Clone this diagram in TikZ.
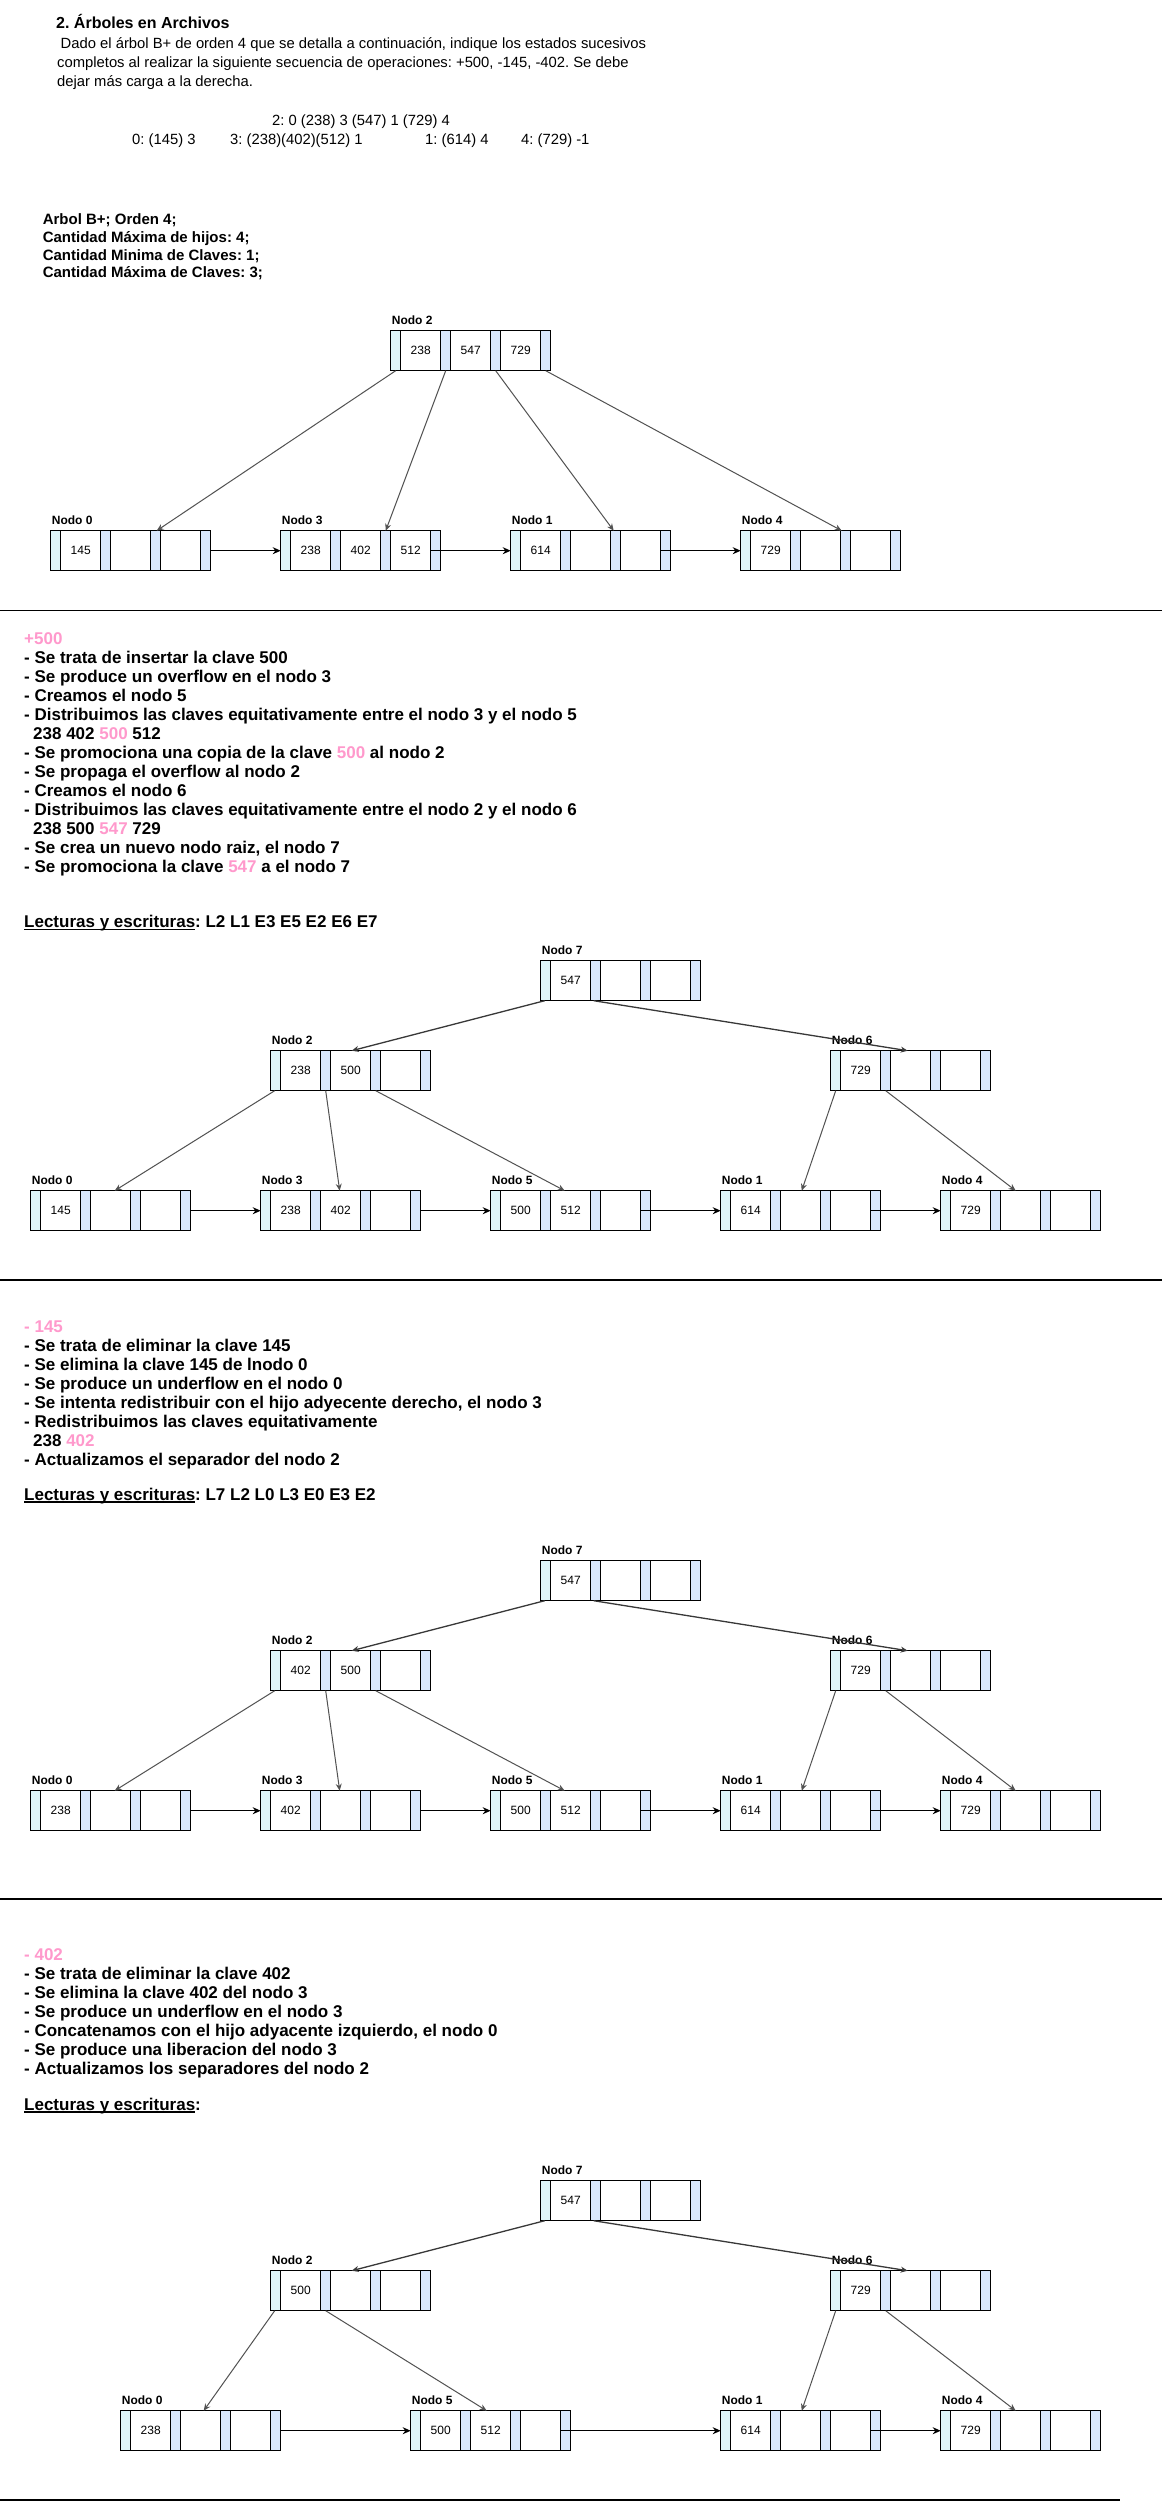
\documentclass[tikz,border=0pt]{standalone}
\usepackage{fontspec}
\setmainfont{Liberation Sans}
\usetikzlibrary{arrows.meta}
\frenchspacing
\definecolor{pinkk}{HTML}{FF99CC}
\definecolor{stripeA}{HTML}{DFF6F9}
\definecolor{stripeB}{HTML}{DAE8FC}
\newcommand\ulx[1]{\setbox0\hbox{#1}\rlap{\rule[-2pt]{\wd0}{1.2pt}}#1}
\newcommand\pk[1]{\textcolor{pinkk}{#1}}
\newcommand\bnode[7]{%
 \begin{scope}[shift={(#2,#3)}]
  \fill[stripeA] (0,0) rectangle (10,40);
  \fill[stripeB] (50,0) rectangle (60,40) (100,0) rectangle (110,40) (150,0) rectangle (160,40);
  \draw[bline] (10,0) -- (10,40) (50,0) -- (50,40) (60,0) -- (60,40) (100,0) -- (100,40) (110,0) -- (110,40) (150,0) -- (150,40);
  \node[bbox] (#1) at (0,0) {};
  \node[keyt] (#1k1) at (30,20) {#5};
  \node[keyt] (#1k2) at (80,20) {#6};
  \node[keyt] (#1k3) at (130,20) {#7};
  \node[lbl] (#1l) at (1,-6.5) {Nodo #4};
 \end{scope}}
\tikzset{
 bline/.style={line width=1.2pt, black},
 bbox/.style={draw, line width=1.2pt, inner sep=0pt, outer sep=0pt, minimum width=160pt, minimum height=40pt, anchor=north west},
 keyt/.style={font=\fontsize{12}{14}\selectfont, inner sep=0pt, anchor=center},
 lbl/.style={font=\bfseries\fontsize{12}{14}\selectfont, inner sep=0pt, anchor=base west},
 ttl/.style={font=\bfseries\fontsize{16}{19}\selectfont, inner sep=0pt, anchor=base west},
 body/.style={font=\fontsize{14.8}{19}\selectfont, inner sep=0pt, anchor=base west},
 bbody/.style={font=\bfseries\fontsize{15}{18}\selectfont, inner sep=0pt, anchor=base west},
 sec/.style={font=\bfseries\fontsize{17}{19}\selectfont, inner sep=0pt, anchor=base west},
 sepline/.style={line width=1.3pt, black},
 toplink/.style={draw=black!78, line width=1.3pt, -{Stealth[length=7pt,width=6pt]}},
 plink/.style={draw=black!68, line width=1pt, -{Stealth[length=7pt,width=6pt]}},
 leaflink/.style={draw=black, line width=1.2pt, -{Stealth[length=8pt,width=7pt]}},
}
\begin{document}
\begin{tikzpicture}[x=1pt, y=-1pt]
\useasboundingbox (0,0) rectangle (1162,2502);
\fill[white] (0,0) rectangle (1162,2502);

% ---------- header ----------
\node[ttl] (title) at (56,28.6) {2. Árboles en Archivos};
\node[body] (intro1) at (60.5,48.2) {Dado el árbol B+ de orden 4 que se detalla a continuación, indique los estados sucesivos};
\node[body] (intro2) at (57,67.6) {completos al realizar la siguiente secuencia de operaciones: +500, -145, -402. Se debe};
\node[body] (intro3) at (57,86.6) {dejar más carga a la derecha.};
\node[body] (d2) at (272,125.6) {2: 0 (238) 3 (547) 1 (729) 4};
\node[body] (d0) at (132,144.9) {0: (145) 3};
\node[body] (d3) at (230,144.9) {3: (238)(402)(512) 1};
\node[body] (d1) at (425,144.9) {1: (614) 4};
\node[body] (d4) at (521,144.9) {4: (729) -1};
\node[bbody] (ab1) at (42.6,224) {Arbol B+; Orden 4;};
\node[bbody] (ab2) at (42.6,242.3) {Cantidad Máxima de hijos: 4;};
\node[bbody] (ab3) at (42.6,260) {Cantidad Minima de Claves: 1;};
\node[bbody] (ab4) at (42.6,277.7) {Cantidad Máxima de Claves: 3;};

% ---------- tree 1 ----------
\bnode{ta2}{390.7}{330.7}{2}{238}{547}{729}
\bnode{ta0}{50.7}{530.7}{0}{145}{}{}
\bnode{ta3}{280.7}{530.7}{3}{238}{402}{512}
\bnode{ta1}{510.7}{530.7}{1}{614}{}{}
\bnode{ta4}{740.7}{530.7}{4}{729}{}{}
\draw[plink] ([xshift=5pt]ta2.south west) -- ([xshift=106pt]ta0.north west);
\draw[plink] ([xshift=55pt]ta2.south west) -- ([xshift=105pt]ta3.north west);
\draw[plink] ([xshift=105pt]ta2.south west) -- ([xshift=103pt]ta1.north west);
\draw[plink] ([xshift=155pt]ta2.south west) -- ([xshift=101pt]ta4.north west);
\draw[leaflink] (ta0.east) -- (ta3.west);
\draw[leaflink] ([xshift=-10pt]ta3.east) -- (ta1.west);
\draw[leaflink] ([xshift=-10pt]ta1.east) -- (ta4.west);

\draw[sepline] (0,610.3) -- (1162,610.3);

% ---------- section +500 ----------
\node[sec] (a0) at (24,644.9) {\pk{+500}};
\node[sec] (a1) at (24,663.9) {- Se trata de insertar la clave 500};
\node[sec] (a2) at (24,682.9) {- Se produce un overflow en el nodo 3};
\node[sec] (a3) at (24,701.9) {- Creamos el nodo 5};
\node[sec] (a4) at (24,720.9) {- Distribuimos las claves equitativamente entre el nodo 3 y el nodo 5};
\node[sec] (a5) at (33,739.9) {238 402 \pk{500} 512};
\node[sec] (a6) at (24,758.9) {- Se promociona una copia de la clave \pk{500} al nodo 2};
\node[sec] (a7) at (24,777.9) {- Se propaga el overflow al nodo 2};
\node[sec] (a8) at (24,796.9) {- Creamos el nodo 6};
\node[sec] (a9) at (24,815.9) {- Distribuimos las claves equitativamente entre el nodo 2 y el nodo 6};
\node[sec] (a10) at (33,834.9) {238 500 \pk{547} 729};
\node[sec] (a11) at (24,853.9) {- Se crea un nuevo nodo raiz, el nodo 7};
\node[sec] (a12) at (24,872.9) {- Se promociona la clave \pk{547} a el nodo 7};
\node[sec] (a13) at (24,927.9) {\ulx{Lecturas y escrituras}: L2 L1 E3 E5 E2 E6 E7};

% ---------- tree 2 ----------
\bnode{tb7}{540.7}{960.7}{7}{547}{}{}
\bnode{tb2}{270.7}{1050.7}{2}{238}{500}{}
\bnode{tb6}{830.7}{1050.7}{6}{729}{}{}
\bnode{tb0}{30.7}{1190.7}{0}{145}{}{}
\bnode{tb3}{260.7}{1190.7}{3}{238}{402}{}
\bnode{tb5}{490.7}{1190.7}{5}{500}{512}{}
\bnode{tb1}{720.7}{1190.7}{1}{614}{}{}
\bnode{tb4}{940.7}{1190.7}{4}{729}{}{}
\draw[toplink] ([xshift=4pt]tb7.south west) -- ([xshift=81pt]tb2.north west);
\draw[toplink] ([xshift=53pt]tb7.south west) -- ([xshift=77pt]tb6.north west);
\draw[plink] ([xshift=4pt]tb2.south west) -- ([xshift=84pt]tb0.north west);
\draw[plink] ([xshift=55pt]tb2.south west) -- ([xshift=79pt]tb3.north west);
\draw[plink] ([xshift=105pt]tb2.south west) -- ([xshift=74pt]tb5.north west);
\draw[plink] ([xshift=5pt]tb6.south west) -- ([xshift=81pt]tb1.north west);
\draw[plink] ([xshift=55pt]tb6.south west) -- ([xshift=75pt]tb4.north west);
\draw[leaflink] (tb0.east) -- (tb3.west);
\draw[leaflink] (tb3.east) -- (tb5.west);
\draw[leaflink] ([xshift=-10pt]tb5.east) -- (tb1.west);
\draw[leaflink] ([xshift=-10pt]tb1.east) -- (tb4.west);

\draw[sepline] (0,1280) -- (1162,1280);

% ---------- section -145 ----------
\node[sec] (b0) at (24,1332.3) {\pk{- 145}};
\node[sec] (b1) at (24,1351.3) {- Se trata de eliminar la clave 145};
\node[sec] (b2) at (24,1370.3) {- Se elimina la clave 145 de lnodo 0};
\node[sec] (b3) at (24,1389.3) {- Se produce un underflow en el nodo 0};
\node[sec] (b4) at (24,1408.3) {- Se intenta redistribuir con el hijo adyecente derecho, el nodo 3};
\node[sec] (b5) at (24,1427.3) {- Redistribuimos las claves equitativamente};
\node[sec] (b6) at (33,1446.3) {238 \pk{402}};
\node[sec] (b7) at (24,1465.3) {- Actualizamos el separador del nodo 2};
\node[sec] (b8) at (24,1500.6) {\ulx{Lecturas y escrituras}: L7 L2 L0 L3 E0 E3 E2};

% ---------- tree 3 ----------
\bnode{tc7}{540.7}{1560.7}{7}{547}{}{}
\bnode{tc2}{270.7}{1650.7}{2}{402}{500}{}
\bnode{tc6}{830.7}{1650.7}{6}{729}{}{}
\bnode{tc0}{30.7}{1790.7}{0}{238}{}{}
\bnode{tc3}{260.7}{1790.7}{3}{402}{}{}
\bnode{tc5}{490.7}{1790.7}{5}{500}{512}{}
\bnode{tc1}{720.7}{1790.7}{1}{614}{}{}
\bnode{tc4}{940.7}{1790.7}{4}{729}{}{}
\draw[toplink] ([xshift=4pt]tc7.south west) -- ([xshift=81pt]tc2.north west);
\draw[toplink] ([xshift=53pt]tc7.south west) -- ([xshift=77pt]tc6.north west);
\draw[plink] ([xshift=4pt]tc2.south west) -- ([xshift=84pt]tc0.north west);
\draw[plink] ([xshift=55pt]tc2.south west) -- ([xshift=79pt]tc3.north west);
\draw[plink] ([xshift=105pt]tc2.south west) -- ([xshift=74pt]tc5.north west);
\draw[plink] ([xshift=5pt]tc6.south west) -- ([xshift=81pt]tc1.north west);
\draw[plink] ([xshift=55pt]tc6.south west) -- ([xshift=75pt]tc4.north west);
\draw[leaflink] (tc0.east) -- (tc3.west);
\draw[leaflink] (tc3.east) -- (tc5.west);
\draw[leaflink] ([xshift=-10pt]tc5.east) -- (tc1.west);
\draw[leaflink] ([xshift=-10pt]tc1.east) -- (tc4.west);

\draw[sepline] (0,1899) -- (1162,1899);

% ---------- section -402 ----------
\node[sec] (c0) at (24,1960.6) {\pk{- 402}};
\node[sec] (c1) at (24,1979.6) {- Se trata de eliminar la clave 402};
\node[sec] (c2) at (24,1998.6) {- Se elimina la clave 402 del nodo 3};
\node[sec] (c3) at (24,2017.6) {- Se produce un underflow en el nodo 3};
\node[sec] (c4) at (24,2036.6) {- Concatenamos con el hijo adyacente izquierdo, el nodo 0};
\node[sec] (c5) at (24,2055.6) {- Se produce una liberacion del nodo 3};
\node[sec] (c6) at (24,2074.6) {- Actualizamos los separadores del nodo 2};
\node[sec] (c7) at (24,2110.6) {\ulx{Lecturas y escrituras}:};

% ---------- tree 4 ----------
\bnode{td7}{540.7}{2180.7}{7}{547}{}{}
\bnode{td2}{270.7}{2270.7}{2}{500}{}{}
\bnode{td6}{830.7}{2270.7}{6}{729}{}{}
\bnode{td0}{120.7}{2410.7}{0}{238}{}{}
\bnode{td5}{410.7}{2410.7}{5}{500}{512}{}
\bnode{td1}{720.7}{2410.7}{1}{614}{}{}
\bnode{td4}{940.7}{2410.7}{4}{729}{}{}
\draw[toplink] ([xshift=4pt]td7.south west) -- ([xshift=81pt]td2.north west);
\draw[toplink] ([xshift=53pt]td7.south west) -- ([xshift=77pt]td6.north west);
\draw[plink] ([xshift=4pt]td2.south west) -- ([xshift=83pt]td0.north west);
\draw[plink] ([xshift=55pt]td2.south west) -- ([xshift=76pt]td5.north west);
\draw[plink] ([xshift=5pt]td6.south west) -- ([xshift=81pt]td1.north west);
\draw[plink] ([xshift=55pt]td6.south west) -- ([xshift=75pt]td4.north west);
\draw[leaflink] (td0.east) -- (td5.west);
\draw[leaflink] ([xshift=-10pt]td5.east) -- (td1.west);
\draw[leaflink] ([xshift=-10pt]td1.east) -- (td4.west);

\draw[sepline] (0,2500) -- (1120,2500);
\end{tikzpicture}
\end{document}
